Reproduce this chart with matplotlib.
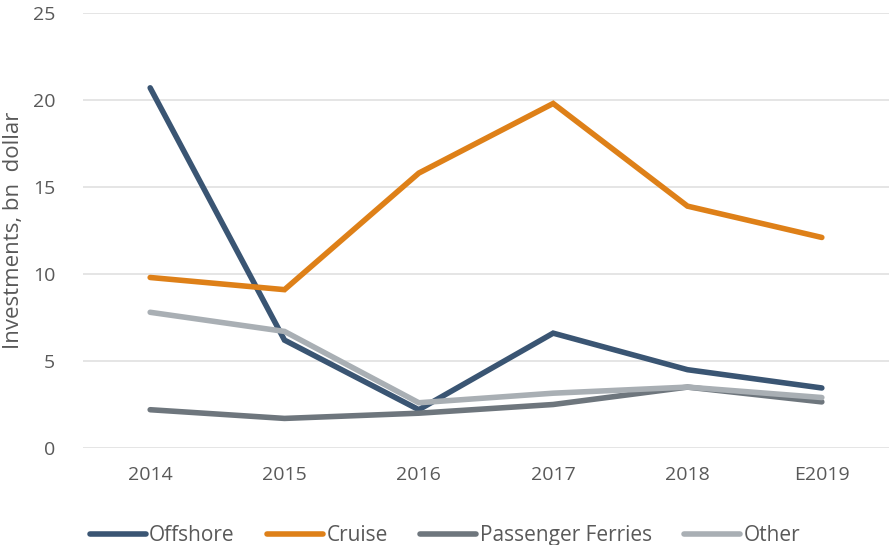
import numpy as np
import matplotlib.pyplot as plt

plt.rcParams['font.family'] = ['Open Sans', 'DejaVu Sans']

years = ['2014', '2015', '2016', '2017', '2018', 'E2019']
offshore = [20.7, 6.2, 2.2, 6.6, 4.5, 3.45]
cruise = [9.8, 9.1, 15.8, 19.8, 13.9, 12.1]
ferries = [2.2, 1.7, 2.0, 2.5, 3.5, 2.65]
other = [7.8, 6.7, 2.6, 3.15, 3.5, 2.9]

series = [
    ('Offshore', offshore, '#3A5573'),
    ('Cruise', cruise, '#DE8018'),
    ('Passenger Ferries', ferries, '#6E767D'),
    ('Other', other, '#A9AFB4'),
]

fig = plt.figure(figsize=(8.94, 5.45), dpi=100)
ax = fig.add_axes([83 / 894, 97 / 545, 806 / 894, 435 / 545])

x = np.arange(len(years))
for name, vals, col in series:
    ax.plot(x, vals, color=col, lw=4, label=name, solid_capstyle='round', solid_joinstyle='miter')

ax.set_xlim(-0.5, len(years) - 0.5)
ax.set_ylim(0, 25)
ax.set_yticks(range(0, 26, 5))
ax.set_xticks(x)
ax.set_xticklabels(years)
ax.grid(axis='y', color='#E0E0E0', lw=1.2)
ax.set_axisbelow(True)
for s in ax.spines.values():
    s.set_visible(False)
ax.tick_params(length=0, labelsize=14, colors='#595959', pad=13)
ax.tick_params(axis='y', pad=20)
ax.set_ylabel('Investments, bn  dollar', fontsize=16, color='#595959', labelpad=6)

ax.legend(loc='upper center', bbox_to_anchor=(0.449, -0.135), ncol=4, frameon=False,
          fontsize=15, handlelength=2.7, handletextpad=0.15, columnspacing=1.55,
          labelcolor='#595959')

fig.savefig('out.png', dpi=100)
